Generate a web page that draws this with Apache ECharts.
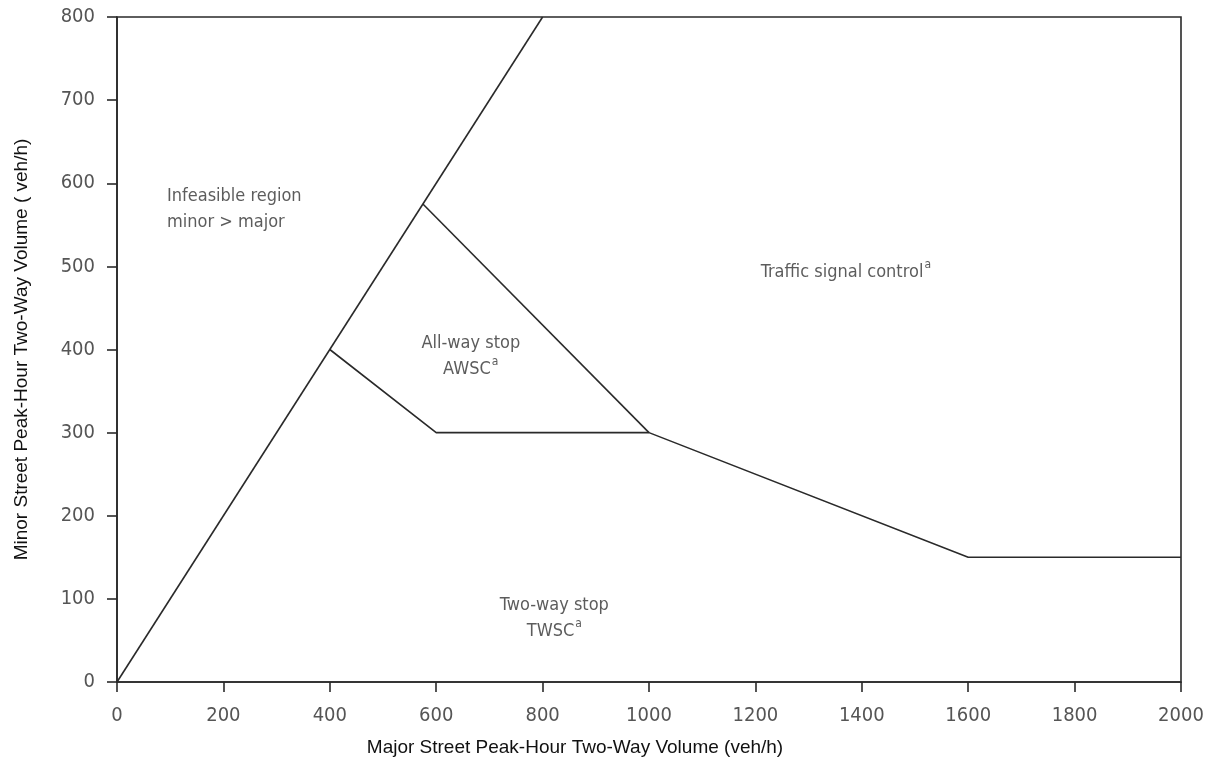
<!DOCTYPE html>
<html><head><meta charset="utf-8">
<script src="https://cdn.jsdelivr.net/npm/echarts@6/dist/echarts.min.js"></script>
<style>html,body{margin:0;padding:0;background:#fff}#c{width:1217px;height:772px}</style>
</head><body><div id="c"></div>
<script>
// Boundary lines (major volume, minor volume)
const feasibleLimit = [[0, 0], [800, 800]];
const lowerBoundary = [[400, 400], [600, 300], [1000, 300], [1600, 150], [2000, 150]];
const awscUpper = [[575, 575], [1000, 300]];
// Region labels: [x, y, text, align]
const regionLabels = [
  [94, 569, 'Infeasible region\nminor > major', 'left'],
  [1210, 493, '{t|Traffic signal control}{s|a}', 'left'],
  [665, 392, 'All-way stop\n{t|AWSC}{s|a}', 'center'],
  [822, 77, 'Two-way stop\n{t|TWSC}{s|a}', 'center']
];
const xTicks = [0, 200, 400, 600, 800, 1000, 1200, 1400, 1600, 1800, 2000];
const yTicks = [0, 100, 200, 300, 400, 500, 600, 700, 800];

const narrow = '"DejaVu Sans Condensed", "Liberation Sans Narrow", sans-serif';
const lineStyle = {color: '#2a2a2a', width: 1.6};
const chart = echarts.init(document.getElementById('c'));
const mk = d => ({type: 'line', data: d, symbol: 'none', lineStyle: lineStyle, silent: true, animation: false});
chart.setOption({
  animation: false,
  grid: {left: 117, right: 36, top: 17, bottom: 90, show: true, borderColor: '#2a2a2a', borderWidth: 1.6,
         containLabel: false, outerBoundsMode: 'none'},
  xAxis: {
    type: 'value', min: 0, max: 2000, interval: 200,
    name: 'Major Street Peak-Hour Two-Way Volume (veh/h)', nameLocation: 'middle', nameGap: 56,
    nameTextStyle: {fontFamily: '"Liberation Sans", Arial, sans-serif', fontSize: 19, color: '#111', padding: [0, 148, 0, 0]},
    axisLine: {show: true, lineStyle: {color: '#2a2a2a', width: 1.6}},
    axisTick: {show: true, length: 10, lineStyle: {color: '#2a2a2a', width: 1.6}},
    axisLabel: {fontFamily: narrow, fontSize: 20, color: '#555', margin: 24, formatter: v => String(v)},
    splitLine: {show: false}
  },
  yAxis: {
    type: 'value', min: 0, max: 800, interval: 100,
    name: 'Minor Street Peak-Hour Two-Way Volume ( veh/h)', nameLocation: 'middle', nameGap: 86,
    nameTextStyle: {fontFamily: '"Liberation Sans", Arial, sans-serif', fontSize: 19, color: '#111'},
    axisLine: {show: true, lineStyle: {color: '#2a2a2a', width: 1.6}},
    axisTick: {show: true, length: 10, lineStyle: {color: '#2a2a2a', width: 1.6}},
    axisLabel: {fontFamily: narrow, fontSize: 20, color: '#555', margin: 22},
    splitLine: {show: false}
  },
  series: [
    mk(feasibleLimit), mk(lowerBoundary), mk(awscUpper),
    {
      type: 'scatter', symbolSize: 0, silent: true,
      data: regionLabels.map(r => ({value: [r[0], r[1]], name: r[2], label: {align: r[3]}})),
      label: {
        show: true, position: 'inside',
        formatter: p => p.name,
        fontFamily: narrow, fontSize: 18, color: '#333', lineHeight: 26,
        rich: {
          t: {fontFamily: narrow, fontSize: 18, color: '#333', lineHeight: 26},
          s: {fontFamily: narrow, fontSize: 12, color: '#333', verticalAlign: 'top', lineHeight: 26, padding: [0, 0, 8, 1]}
        }
      }
    }
  ]
});
</script></body></html>
